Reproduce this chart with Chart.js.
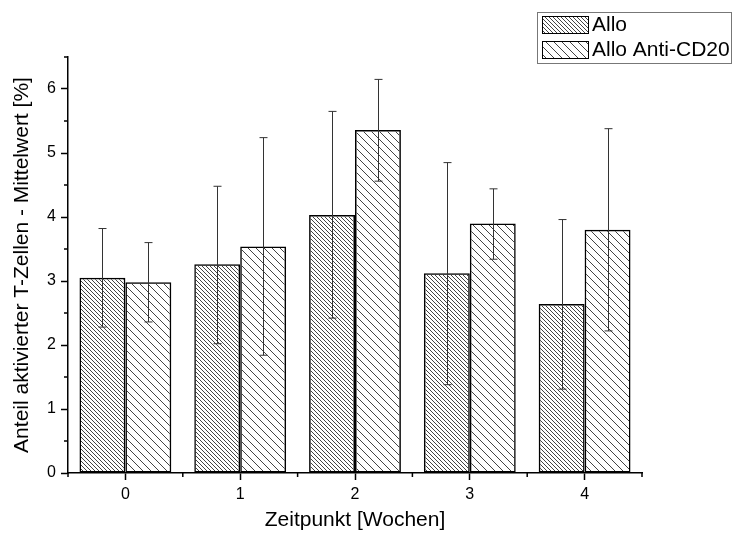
<!DOCTYPE html>
<html>
<head>
<meta charset="utf-8">
<script src="https://cdn.jsdelivr.net/npm/chart.js@4.4.0/dist/chart.umd.min.js"></script>
<style>
  html, body { margin: 0; padding: 0; background: #fff; }
  #wrap { width: 733px; height: 536px; }
</style>
</head>
<body>
<div id="wrap"><canvas id="chart1"></canvas></div>
<script>
const labels = ['0', '1', '2', '3', '4'];
const alloMean = [3.05, 3.26, 4.03, 3.12, 2.64];
const alloLow = [2.28, 2.02, 2.42, 1.38, 1.31];
const alloHigh = [3.82, 4.48, 5.65, 4.85, 3.96];
const antiMean = [2.98, 3.54, 5.36, 3.90, 3.80];
const antiLow = [2.36, 1.84, 4.56, 3.34, 2.22];
const antiHigh = [3.60, 5.24, 6.15, 4.44, 5.38];

const font = '"Liberation Sans", Arial, sans-serif';

// diagonal hatch "\\\" with given horizontal gap
function hatch(gap) {
  const c = document.createElement('canvas');
  c.width = gap; c.height = gap;
  const g = c.getContext('2d');
  g.strokeStyle = '#444';
  g.lineWidth = 1;
  g.beginPath();
  g.moveTo(-1, -1); g.lineTo(gap + 1, gap + 1);
  g.moveTo(-1, gap - 1); g.lineTo(1, gap + 1);
  g.moveTo(gap - 1, -1); g.lineTo(gap + 1, 1);
  g.stroke();
  return g.createPattern(c, 'repeat');
}

const errorBars = {
  id: 'errorBars',
  afterDatasetsDraw(chart) {
    const ctx = chart.ctx, y = chart.scales.y;
    const lows = [alloLow, antiLow], highs = [alloHigh, antiHigh];
    ctx.save();
    ctx.strokeStyle = '#333';
    ctx.lineWidth = 1;
    chart.data.datasets.forEach((ds, i) => {
      chart.getDatasetMeta(i).data.forEach((bar, j) => {
        const x = Math.round(bar.x) + 0.5;
        const top = y.getPixelForValue(highs[i][j]);
        const bot = y.getPixelForValue(lows[i][j]);
        ctx.beginPath();
        ctx.moveTo(x, top); ctx.lineTo(x, bot);
        ctx.moveTo(x - 4, top); ctx.lineTo(x + 4, top);
        ctx.moveTo(x - 4, bot); ctx.lineTo(x + 4, bot);
        ctx.stroke();
      });
    });
    ctx.restore();
  }
};

// minor ticks: half steps on y, category boundaries on x
const minorTicks = {
  id: 'minorTicks',
  afterDraw(chart) {
    const ctx = chart.ctx, x = chart.scales.x, y = chart.scales.y;
    const area = chart.chartArea;
    ctx.save();
    ctx.strokeStyle = '#000';
    ctx.lineWidth = 1.5;
    ctx.beginPath();
    for (let v = 0.5; v <= 6.5; v += 1) {
      const py = y.getPixelForValue(v);
      ctx.moveTo(area.left, py); ctx.lineTo(area.left - 4, py);
    }
    const step = x.getPixelForValue(1) - x.getPixelForValue(0);
    for (let j = 0; j <= labels.length; j++) {
      const px = x.getPixelForValue(0) - step / 2 + j * step;
      ctx.moveTo(px, area.bottom); ctx.lineTo(px, area.bottom + 4);
    }
    ctx.stroke();
    ctx.restore();
  }
};

const boxLegend = {
  id: 'boxLegend',
  afterDraw(chart) {
    const ctx = chart.ctx;
    ctx.save();
    ctx.strokeStyle = '#777';
    ctx.lineWidth = 1;
    ctx.strokeRect(537.5, 12.5, 194, 51);
    chart.data.datasets.forEach((ds, i) => {
      const y0 = 16 + i * 25;
      ctx.fillStyle = '#fff';
      ctx.fillRect(542, y0, 46, 17);
      ctx.fillStyle = ds.backgroundColor;
      ctx.fillRect(542, y0, 46, 17);
      ctx.strokeStyle = '#000';
      ctx.strokeRect(542.5, y0 + 0.5, 46, 17);
      ctx.fillStyle = '#000';
      ctx.font = '21px ' + font;
      ctx.textBaseline = 'middle';
      ctx.fillText(ds.label, 592, y0 + 9);
    });
    ctx.restore();
  }
};

new Chart(document.getElementById('chart1'), {
  type: 'bar',
  data: {
    labels: labels,
    datasets: [
      {
        label: 'Allo',
        data: alloMean,
        backgroundColor: hatch(4),
        borderColor: '#000',
        borderWidth: 1.5,
        borderSkipped: false,
        categoryPercentage: 0.8,
        barPercentage: 1.0
      },
      {
        label: 'Allo Anti-CD20',
        data: antiMean,
        backgroundColor: hatch(8),
        borderColor: '#000',
        borderWidth: 1.5,
        borderSkipped: false,
        categoryPercentage: 0.8,
        barPercentage: 1.0
      }
    ]
  },
  options: {
    responsive: true,
    maintainAspectRatio: false,
    animation: false,
    layout: { padding: { top: 57, right: 91, left: 0, bottom: 0 } },
    plugins: {
      legend: { display: false },
      tooltip: { enabled: false }
    },
    scales: {
      x: {
        offset: true,
        grid: { offset: false, drawOnChartArea: false, tickLength: 7, tickColor: '#000', tickWidth: 1.5 },
        border: { color: '#000', width: 1.5 },
        ticks: { color: '#000', font: { family: font, size: 16 }, padding: 5, maxRotation: 0 },
        title: { display: true, text: 'Zeitpunkt [Wochen]', color: '#000', font: { family: font, size: 21 }, padding: { top: 0, bottom: 3 } },
        afterFit(scale) { scale.height = 63; }
      },
      y: {
        min: 0,
        max: 6.5,
        grid: { drawOnChartArea: false, tickLength: 7, tickColor: '#000', tickWidth: 1.5 },
        border: { color: '#000', width: 1.5 },
        ticks: { stepSize: 1, includeBounds: false, color: '#000', font: { family: font, size: 16 }, padding: 5 },
        title: { display: true, text: 'Anteil aktivierter T-Zellen - Mittelwert [%]', color: '#000', font: { family: font, size: 21 }, padding: { top: 10, bottom: 0 } },
        afterFit(scale) { scale.width = 68; }
      }
    }
  },
  plugins: [errorBars, minorTicks, boxLegend]
});
</script>
</body>
</html>
